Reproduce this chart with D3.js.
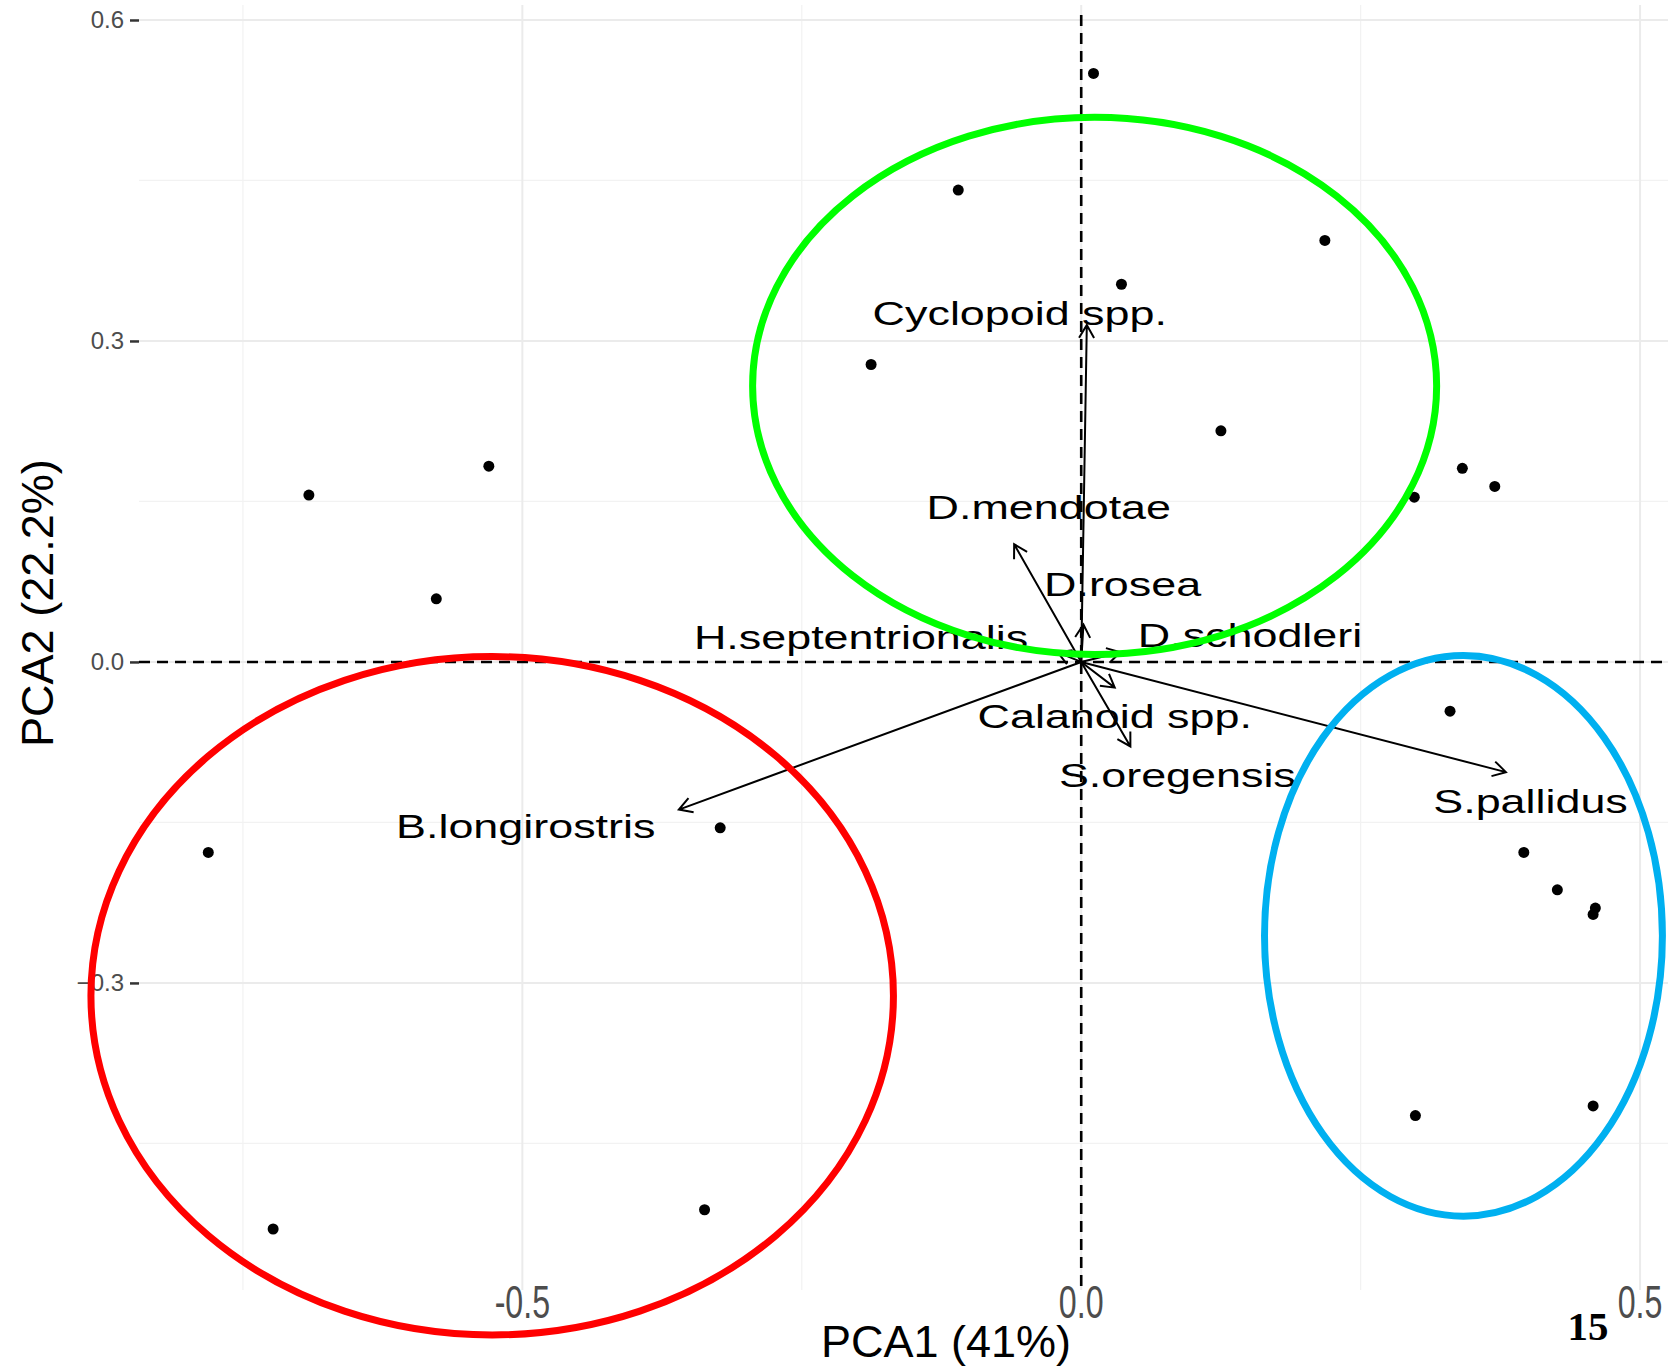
<!DOCTYPE html>
<html>
<head>
<meta charset="utf-8">
<script src="https://cdn.jsdelivr.net/npm/d3@7"></script>
<style>
  body { margin: 0; background: #fff; }
  text { font-family: "Liberation Sans", Arial, sans-serif; }
</style>
</head>
<body>
<div id="drawing"></div>
<script>
// site scores (PCA1, PCA2)
var siteX = [0.011, -0.110, 0.218, 0.036, -0.188, 0.125, -0.530, -0.691, 0.341, 0.370, 0.298, -0.577,
  0.330, -0.323, -0.781, 0.396, 0.426, 0.460, 0.458, 0.299, 0.458, -0.337, -0.723];
var siteY = [0.550, 0.441, 0.394, 0.353, 0.278, 0.216, 0.183, 0.156, 0.181, 0.164, 0.154, 0.059,
  -0.046, -0.155, -0.178, -0.178, -0.213, -0.230, -0.236, -0.424, -0.415, -0.512, -0.530];

// species loadings
var species = ["Cyclopoid spp.", "D.mendotae", "D.rosea", "H.septentrionalis", "D.schodleri",
  "Calanoid spp.", "S.oregensis", "B.longirostris", "S.pallidus"];
var loadX = [0.005, -0.060, 0.002, -0.021, 0.035, 0.030, 0.044, -0.360, 0.380];
var loadY = [0.315, 0.110, 0.035, 0.009, 0.009, -0.024, -0.079, -0.138, -0.103];
var labelX = [-0.055, -0.029, 0.037, -0.197, 0.151, 0.030, 0.086, -0.497, 0.402];
var labelY = [0.326, 0.144, 0.072, 0.023, 0.025, -0.051, -0.106, -0.154, -0.130];

// group ellipses drawn over the plot (centre, radii in data units)
var groupColor = ["#00ff00", "#ff0000", "#00b0f0"];
var groupCX = [0.012, -0.527, 0.342];
var groupCY = [0.258, -0.312, -0.256];
var groupRX = [0.306, 0.359, 0.178];
var groupRY = [0.251, 0.317, 0.262];

var xTicks = [-0.5, 0.0, 0.5];
var xMinor = [-0.75, -0.25, 0.25];
var yTicks = [0.6, 0.3, 0.0, -0.3];
var yMinor = [0.45, 0.15, -0.15, -0.45];

var W = 1672, H = 1368;
var m = {l: 139, r: 4, t: 5, b: 78};

var svg = d3.select("#drawing")
  .append("svg")
  .attr("width", W)
  .attr("height", H);

var x = d3.scaleLinear().domain([-0.843, 0.525]).range([m.l, W - m.r]);
var y = d3.scaleLinear().domain([-0.587, 0.614]).range([H - m.b, m.t]);

// grid
var grid = svg.append("g");
grid.selectAll(".xmin").data(xMinor).enter().append("line")
  .attr("x1", d => x(d)).attr("x2", d => x(d))
  .attr("y1", m.t).attr("y2", H - m.b)
  .attr("stroke", "#f2f2f2").attr("stroke-width", 1.2);
grid.selectAll(".ymin").data(yMinor).enter().append("line")
  .attr("x1", m.l).attr("x2", W - m.r)
  .attr("y1", d => y(d)).attr("y2", d => y(d))
  .attr("stroke", "#f2f2f2").attr("stroke-width", 1.2);
grid.selectAll(".xmaj").data(xTicks).enter().append("line")
  .attr("x1", d => x(d)).attr("x2", d => x(d))
  .attr("y1", m.t).attr("y2", H - m.b)
  .attr("stroke", "#ebebeb").attr("stroke-width", 2);
grid.selectAll(".ymaj").data(yTicks).enter().append("line")
  .attr("x1", m.l).attr("x2", W - m.r)
  .attr("y1", d => y(d)).attr("y2", d => y(d))
  .attr("stroke", "#ebebeb").attr("stroke-width", 2);

// y axis ticks + labels
var yAxis = svg.append("g")
  .attr("transform", "translate(" + m.l + ",0)")
  .call(d3.axisLeft(y).tickValues(yTicks).tickSize(9).tickPadding(6).tickFormat(d3.format(".1f")));
yAxis.select(".domain").remove();
yAxis.selectAll("line").attr("stroke", "#333").attr("stroke-width", 2.5);
yAxis.selectAll("text")
  .attr("fill", "#4d4d4d")
  .style("font-size", "24px")
  .style("font-family", "'Liberation Sans', Arial, sans-serif");

// x tick labels (squeezed, as in the picture)
svg.selectAll(".xlab").data(xTicks).enter().append("text")
  .attr("transform", d => "translate(" + x(d) + "," + (H - 50) + ") scale(0.7,1)")
  .attr("text-anchor", "middle")
  .attr("fill", "#4d4d4d")
  .style("font-size", "46px")
  .text(d => d3.format(".1f")(d).replace("−", "-"));

// zero lines
svg.append("line")
  .attr("x1", m.l).attr("x2", W - m.r)
  .attr("y1", y(0)).attr("y2", y(0))
  .attr("stroke", "#000").attr("stroke-width", 2.6)
  .attr("stroke-dasharray", "11,7");
svg.append("line")
  .attr("x1", x(0)).attr("x2", x(0))
  .attr("y1", m.t + 10).attr("y2", H - m.b)
  .attr("stroke", "#000").attr("stroke-width", 2.6)
  .attr("stroke-dasharray", "11,7");

// sites
svg.selectAll(".site").data(siteX).enter().append("circle")
  .attr("cx", d => x(d))
  .attr("cy", (d, i) => y(siteY[i]))
  .attr("r", 5.5)
  .attr("fill", "#000");

// loading arrows
var headLen = 15, headAng = Math.PI / 6;
svg.selectAll(".arrow").data(species).enter().append("path")
  .attr("d", function(d, i) {
    var x0 = x(0), y0 = y(0), x1 = x(loadX[i]), y1 = y(loadY[i]);
    var a = Math.atan2(y1 - y0, x1 - x0);
    var ax = x1 - headLen * Math.cos(a - headAng), ay = y1 - headLen * Math.sin(a - headAng);
    var bx = x1 - headLen * Math.cos(a + headAng), by = y1 - headLen * Math.sin(a + headAng);
    return "M" + x0 + "," + y0 + "L" + x1 + "," + y1 +
      "M" + ax + "," + ay + "L" + x1 + "," + y1 + "L" + bx + "," + by;
  })
  .attr("fill", "none")
  .attr("stroke", "#000")
  .attr("stroke-width", 2);

// species labels (stretched wide like the original)
svg.selectAll(".sp").data(species).enter().append("text")
  .attr("transform", (d, i) => "translate(" + x(labelX[i]) + "," + y(labelY[i]) + ") scale(1.36,1)")
  .attr("text-anchor", "middle")
  .attr("dy", "0.35em")
  .attr("fill", "#000")
  .style("font-size", "33px")
  .text(d => d);

// axis titles
svg.append("text")
  .attr("x", 946).attr("y", H - 11)
  .attr("text-anchor", "middle")
  .style("font-size", "45px")
  .text("PCA1 (41%)");
svg.append("text")
  .attr("transform", "translate(53," + y(0.055) + ") rotate(-90)")
  .attr("text-anchor", "middle")
  .style("font-size", "45px")
  .text("PCA2 (22.2%)");

// group ellipses
svg.selectAll(".grp").data(groupColor).enter().append("ellipse")
  .attr("cx", (d, i) => x(groupCX[i]))
  .attr("cy", (d, i) => y(groupCY[i]))
  .attr("rx", (d, i) => x(groupRX[i]) - x(0))
  .attr("ry", (d, i) => y(0) - y(groupRY[i]))
  .attr("fill", "none")
  .attr("stroke", d => d)
  .attr("stroke-width", 7);

// page number
svg.append("text")
  .attr("x", 1588).attr("y", 1340)
  .attr("text-anchor", "middle")
  .style("font-family", "'Liberation Serif', 'Times New Roman', serif")
  .style("font-weight", "bold")
  .style("font-size", "41px")
  .text("15");
</script>
</body>
</html>
